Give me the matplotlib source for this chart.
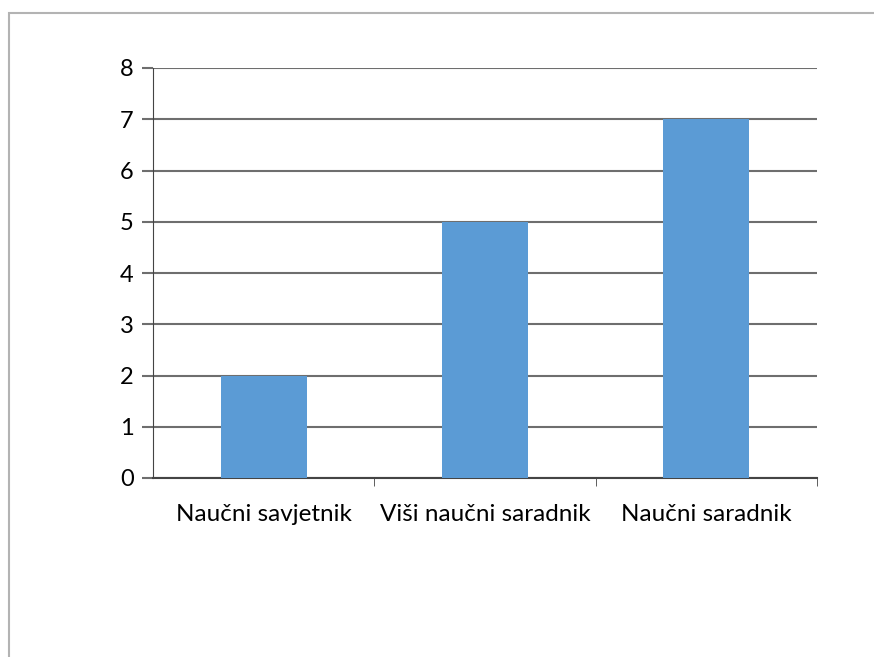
import matplotlib
matplotlib.use("Agg")
import matplotlib.pyplot as plt
from matplotlib.patches import Rectangle

categories = ["Naučni savjetnik", "Viši naučni saradnik", "Naučni saradnik"]
values = [2, 5, 7]

plt.rcParams['font.family'] = ['Lato', 'DejaVu Sans']

W, H = 874, 657
fig = plt.figure(figsize=(W / 100, H / 100), dpi=100)

# chart area frame (grey border at top/left)
fig.patches.append(Rectangle((8.5 / W, -0.05), 1.1, (H - 13) / H + 0.05,
                             transform=fig.transFigure, fill=False,
                             edgecolor="#b3b3b3", linewidth=1.5))

ax = fig.add_axes([153 / W, 1 - 478 / H, (817 - 153) / W, (478 - 68) / H])

x = list(range(len(categories)))
ax.bar(x, values, width=0.39, color="#5b9bd5", linewidth=0, zorder=3)

ax.set_xlim(-0.5, len(categories) - 0.5)
ax.set_ylim(0, 8)
ax.set_yticks(range(0, 9))
ax.yaxis.grid(True, color="#6e6e6e", linewidth=1.5)
ax.set_axisbelow(True)

ax.set_xticks(x)
ax.set_xticklabels(categories, fontsize=17.5)
ax.set_xticks([0.5, 1.5, 2.5], minor=True)
ax.tick_params(axis="x", which="major", length=0, pad=19)
ax.tick_params(axis="x", which="minor", length=6, color="#444444")
ax.tick_params(axis="y", length=8, width=1.5, color="#6e6e6e", labelsize=17, pad=6)

for s in ["top", "right"]:
    ax.spines[s].set_visible(False)
ax.spines["left"].set_color("#444444")
ax.spines["bottom"].set_color("#444444")
ax.spines["bottom"].set_linewidth(1.5)

fig.savefig("out.png", dpi=100)
